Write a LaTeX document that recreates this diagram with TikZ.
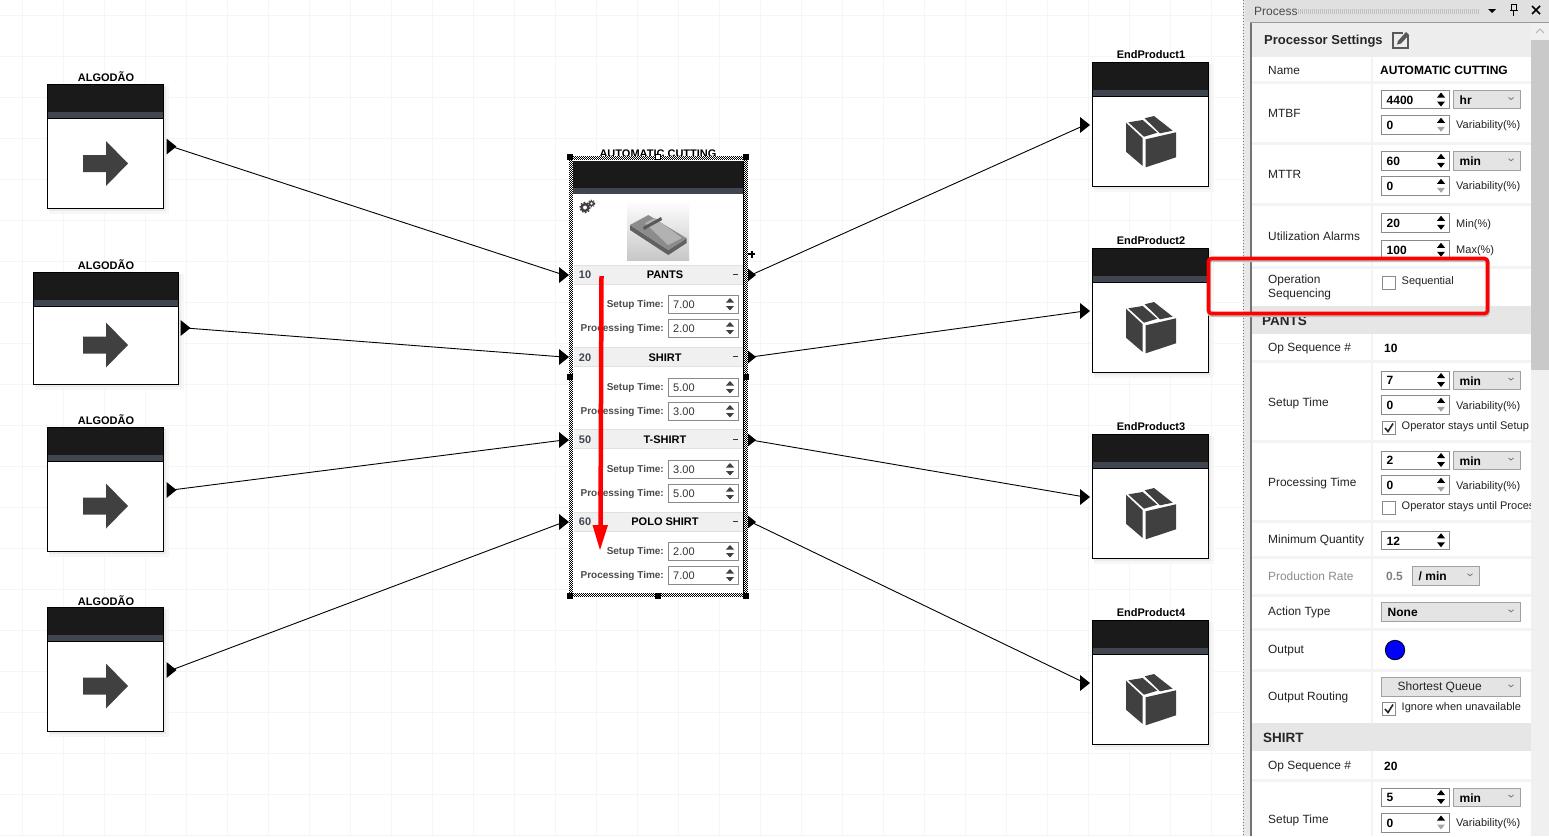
\documentclass[tikz,border=0pt]{standalone}
\usepackage{fontspec}
\setmainfont{Liberation Sans}
\definecolor{hdr}{HTML}{1A1A1A}
\definecolor{band}{HTML}{3F4650}
\definecolor{icon}{HTML}{404040}
\definecolor{rowg}{HTML}{F0F0F0}
\definecolor{sep}{HTML}{F3F3F3}
\definecolor{sect}{HTML}{E6E6E6}
\definecolor{ddl}{HTML}{E4E4E4}
\definecolor{wbord}{HTML}{8A8A8A}
\definecolor{redx}{HTML}{FF0000}
\definecolor{txtc}{HTML}{222222}
\newcommand{\fsz}[1]{\fontsize{#1}{14}\selectfont}
\newcount\tnum
\tikzset{
  x=1pt,y=-1pt,
  lab/.style={anchor=west,inner sep=0pt,text=txtc,font=\fsz{11.9}},
  val/.style={anchor=west,inner sep=0pt,text=black,font=\fsz{12}\bfseries},
  small/.style={anchor=west,inner sep=0pt,text=txtc,font=\fsz{11}},
  title/.style={anchor=center,inner sep=0pt,text=black,font=\fsz{11}\bfseries},
  plab/.style={anchor=east,inner sep=0pt,text=black!70,font=\fsz{10}\bfseries},
  pval/.style={anchor=west,inner sep=0pt,text=black!80,font=\fsz{11}},
  rowt/.style={anchor=center,inner sep=0pt,text=black,font=\fsz{11}\bfseries},
  wire/.style={draw=black,line width=0.9pt},
  boxo/.style={draw=black,line width=1pt,fill=white},
  wid/.style={draw=wbord,line width=1pt,fill=white},
  dropb/.style={draw=wbord!80,line width=1pt,fill=ddl},
}
\newcommand{\Txt}[4]{\global\advance\tnum by 1 \node[#1] (t\the\tnum) at ({#2},{#3+0.7}) {#4};}
\newcommand{\Shadow}[4]{%
  \fill[black!3] (#1+2,#2+2) rectangle (#3+6,#4+6);
  \fill[black!8] (#1+2,#2+2) rectangle (#3+3,#4+3);}
% tip-right triangle, coordinate at its centre
\newcommand{\Port}[3]{\coordinate (#1) at (#2,#3);
  \fill[black] (#2-5,#3-8) -- (#2+5,#3) -- (#2-5,#3+8) -- cycle;}
\newcommand{\BlockBox}[4]{% x1 ytop x2 ybot
  \Shadow{#1}{#2}{#3}{#4}
  \draw[boxo] (#1+0.5,#2+0.4) rectangle (#3+0.3,#4+0.3);
  \fill[hdr] (#1+0.5,#2+0.4) rectangle (#3+0.3,#2+28);
  \fill[band] (#1+1,#2+28) rectangle (#3-0.2,#2+34);
  \draw[line width=1pt] (#1+0.5,#2+0.4) rectangle (#3+0.3,#2+34.2) (#1+0.5,#2+0.4) rectangle (#3+0.3,#4+0.3);}
\newcommand{\ArrowIcon}[1]{% y centre
  \fill[icon] (83,#1-8.5) -- (106,#1-8.5) -- (106,#1-22.5) -- (128,#1) -- (106,#1+22.5) -- (106,#1+8.5) -- (83,#1+8.5) -- cycle;}
\newcommand{\BoxIcon}[1]{% box top
  \begin{scope}[shift={(1092,#1)}]
    \fill[icon] (34,60.7) -- (50.7,76.3) -- (50.7,104) -- (34,89.7) -- cycle;
    \fill[icon] (53.7,77.3) -- (84,70.3) -- (84,95.3) -- (53.7,105.3) -- cycle;
    \fill[icon] (36.3,60.3) -- (50.7,58) -- (65.3,70.7) -- (52,74.7) -- cycle;
    \fill[icon] (52.7,56.3) -- (62,54) -- (80.7,68.7) -- (68,71.3) -- cycle;
  \end{scope}}
\newcommand{\RowHead}[4]{% y1 y2 number name
  \fill[rowg] (573.5,#1) rectangle (743,#2);
  \draw[black!12,line width=0.8pt] (573.5,#1) -- (743,#1) (573.5,#2) -- (743,#2);
  \Txt{anchor=center,inner sep=0pt,text=band,font=\fsz{11}\bfseries}{585}{(#1+#2)/2}{#3}
  \Txt{rowt}{665}{(#1+#2)/2}{#4}
  \fill[black!80] (733,{(#1+#2)/2-0.5}) rectangle (738,{(#1+#2)/2+0.5});}
\newcommand{\PSpin}[3]{% y1 label value
  \Txt{plab}{664}{#1+9.5}{#2}
  \draw[wid] (668.5,#1) rectangle (738,#1+18);
  \Txt{pval}{673}{#1+9}{#3}
  \fill[black!75] (726,#1+7.5) -- (730,#1+3) -- (734,#1+7.5) -- cycle;
  \fill[black!75] (726,#1+11) -- (730,#1+15.5) -- (734,#1+11) -- cycle;}
\newcommand{\Spin}[6]{% x1 y1 x2 y2 text lowerarrowcolour
  \draw[wid] (#1,#2) rectangle (#3,#4);
  \Txt{val}{#1+5}{(#2+#4)/2}{#5}
  \fill[black] (#3-12,{(#2+#4)/2-2}) -- (#3-8,{(#2+#4)/2-7}) -- (#3-4,{(#2+#4)/2-2}) -- cycle;
  \fill[#6] (#3-12,{(#2+#4)/2+2}) -- (#3-8,{(#2+#4)/2+7}) -- (#3-4,{(#2+#4)/2+2}) -- cycle;}
\newcommand{\Drop}[7]{% x1 y1 x2 y2 text-offset style text
  \draw[dropb] (#1,#2) rectangle (#3,#4);
  \Txt{#6}{#1+#5}{(#2+#4)/2}{#7}
  \draw[black!55,line width=0.8pt] (#3-12,{(#2+#4)/2-2}) -- (#3-9.5,{(#2+#4)/2}) -- (#3-7,{(#2+#4)/2-2});}
\newcommand{\Check}[2]{% x y(top)
  \draw[wid,fill=white] (#1,#2) rectangle (#1+13,#2+13);}
\newcommand{\CheckM}[2]{\Check{#1}{#2}
  \draw[black!85,line width=1.6pt] (#1+2.5,#2+7) -- (#1+5.5,#2+10.5) -- (#1+10.5,#2+2.5);}
\newcommand{\Sep}[1]{\draw[sep,line width=3pt] (1252,#1) -- (1531,#1);}
% checkered selection bands, 4px wide
\tikzset{
  ckA/.style={black,line width=1pt,dash pattern=on 1pt off 1pt},
  ckB/.style={black,line width=1pt,dash pattern=on 1pt off 1pt,dash phase=1pt},
}
\newcommand{\HatchV}[3]{% x(left) y1 y2
  \fill[white] (#1,#2) rectangle (#1+4,#3);
  \draw[ckA] (#1+0.5,#2) -- (#1+0.5,#3);
  \draw[ckB] (#1+1.5,#2) -- (#1+1.5,#3);
  \draw[ckA] (#1+2.5,#2) -- (#1+2.5,#3);
  \draw[ckB] (#1+3.5,#2) -- (#1+3.5,#3);}
\newcommand{\HatchH}[3]{% y(top) x1 x2
  \fill[white] (#2,#1) rectangle (#3,#1+4);
  \draw[ckA] (#2,#1+0.5) -- (#3,#1+0.5);
  \draw[ckB] (#2,#1+1.5) -- (#3,#1+1.5);
  \draw[ckA] (#2,#1+2.5) -- (#3,#1+2.5);
  \draw[ckB] (#2,#1+3.5) -- (#3,#1+3.5);}
\newcommand{\Handle}[3]{\draw[black,fill=#3,line width=0.8pt] (#1-2.5,#2-2.5) rectangle (#1+2.5,#2+2.5);}
\begin{document}
\begin{tikzpicture}
\useasboundingbox (0,0) rectangle (1549,836);
\fill[white] (0,0) rectangle (1549,836);
% canvas grid
\foreach \gx in {22,63,...,1240} \draw[black!4,line width=0.8pt] (\gx,0) -- (\gx,836);
\foreach \gy in {15,56,...,836} \draw[black!4,line width=0.8pt] (0,\gy) -- (1243,\gy);
% sources
\Txt{title}{106}{75.5}{ALGODÃO}
\BlockBox{47}{84}{163}{208}\ArrowIcon{163.5}
\Txt{title}{106}{263.5}{ALGODÃO}
\BlockBox{33}{272}{178}{384}\ArrowIcon{345}
\Txt{title}{106}{418.5}{ALGODÃO}
\BlockBox{47}{427}{163}{551}\ArrowIcon{506}
\Txt{title}{106}{599.5}{ALGODÃO}
\BlockBox{47}{607}{163}{731}\ArrowIcon{686}
% end products
\Txt{title}{1151}{54}{EndProduct1}
\BlockBox{1092}{62}{1208}{186}\BoxIcon{62}
\Txt{title}{1151}{240}{EndProduct2}
\BlockBox{1092}{248}{1208}{372}\BoxIcon{248}
\Txt{title}{1151}{426}{EndProduct3}
\BlockBox{1092}{434}{1208}{558}\BoxIcon{434}
\Txt{title}{1151}{612}{EndProduct4}
\BlockBox{1092}{620}{1208}{744}\BoxIcon{620}
% ports
\Port{s1}{171.5}{146.5}
\Port{s2}{185.5}{328}
\Port{s3}{171.5}{490}
\Port{s4}{171.5}{670}
\Port{i1}{564}{275}
\Port{i2}{564}{357}
\Port{i3}{564}{440}
\Port{i4}{564}{522}
\Port{o1}{751}{275}
\Port{o2}{751}{357}
\Port{o3}{751}{440}
\Port{o4}{751}{522}
\Port{e1}{1085}{125}
\Port{e2}{1085}{311}
\Port{e3}{1085}{497}
\Port{e4}{1085}{683}
% connectors
\draw[wire] (s1) -- (i1);
\draw[wire] (s2) -- (i2);
\draw[wire] (s3) -- (i3);
\draw[wire] (s4) -- (i4);
\draw[wire] (o1) -- (e1);
\draw[wire] (o2) -- (e2);
\draw[wire] (o3) -- (e3);
\draw[wire] (o4) -- (e4);
% processor
\Txt{title}{658}{153}{AUTOMATIC CUTTING}
\fill[white] (572.5,160) rectangle (743.5,593);
\fill[hdr] (573,161) rectangle (743.5,187.5);
\fill[band] (573,187.5) rectangle (743.5,194);
\draw[black,line width=1pt] (572.8,160.5) -- (572.8,593) (743.6,160.5) -- (743.6,593);
% gears
\draw[icon,line width=2.4pt] (585,207.5) circle (3.4);
\draw[icon,line width=1.2pt,dash pattern=on 1.6pt off 1.6pt] (585,207.5) circle (5.2);
\draw[icon,line width=1.4pt] (591.5,203.5) circle (2);
\draw[icon,line width=1pt,dash pattern=on 1.2pt off 1.2pt] (591.5,203.5) circle (3.3);
% machine picture
\shade[top color=white,bottom color=black!22] (627,200) rectangle (689,260);
\fill[black!62] (630,225) -- (668.3,250) -- (686.7,238.3) -- (686.7,243) -- (668.3,255) -- (630,230) -- cycle;
\fill[black!45] (630,225) -- (648.3,215) -- (686.7,238.3) -- (668.3,250) -- cycle;
\fill[black!30] (645,223) -- (655,218) -- (682,238) -- (668,245) -- cycle;
\fill[black!65] (643,227) -- (661,217) -- (662,220) -- (644,230) -- cycle;
% rows
\RowHead{265}{284}{10}{PANTS}
\PSpin{295}{Setup Time:}{7.00}
\PSpin{319}{Processing Time:}{2.00}
\RowHead{347}{366.5}{20}{SHIRT}
\PSpin{378}{Setup Time:}{5.00}
\PSpin{402}{Processing Time:}{3.00}
\RowHead{429.5}{448.5}{50}{T-SHIRT}
\PSpin{460}{Setup Time:}{3.00}
\PSpin{484}{Processing Time:}{5.00}
\RowHead{512}{531}{60}{POLO SHIRT}
\PSpin{542}{Setup Time:}{2.00}
\PSpin{566}{Processing Time:}{7.00}
% selection border
\HatchV{569}{156}{597}
\HatchV{569}{156}{375}
\HatchV{569}{380}{597}
\HatchV{744}{156}{375}
\HatchV{744}{380}{597}
\HatchH{156}{569}{748}
\HatchH{593}{569}{748}
\Handle{570}{157}{black}\Handle{658}{157}{white}\Handle{746}{157}{black}
\Handle{570}{377}{black}\Handle{746}{377}{black}
\Handle{570}{596}{black}\Handle{658}{596}{black}\Handle{746}{596}{black}
\draw[black,line width=2pt] (748,254) -- (755,254) (751.5,250.5) -- (751.5,257.5);
% red flow arrow
\coordinate (ra) at (601.5,276);
\coordinate (rb) at (600.5,527);
\coordinate (rc) at (600,550);
\draw[redx,line width=4.5pt] (ra) -- (rb);
\fill[redx] (rc) -- (592.5,525) -- (608,525) -- cycle;
% panel chrome
\fill[black!9] (1243,0) rectangle (1549,836);
\draw[black!55,line width=1pt,dotted] (1243.5,0) -- (1243.5,836);
\fill[black!12] (1245,0) rectangle (1549,22);
\Txt{anchor=west,inner sep=0pt,text=black!70,font=\fsz{12}}{1254}{11}{Process}
\draw[black!25,line width=5pt,dash pattern=on 1pt off 1pt] (1298,11) -- (1480,11);
\fill[black] (1488,9) -- (1496,9) -- (1492,13) -- cycle;
\draw[black,line width=1pt] (1511,4.5) rectangle (1516,10.5) (1509.5,10.5) -- (1517.5,10.5);
\draw[black,line width=1.3pt] (1513.5,10.5) -- (1513.5,16);
\draw[black,line width=1.5pt] (1532,6) -- (1540,14) (1540,6) -- (1532,14);
\fill[black!55] (1250,22) rectangle (1252,836);
\draw[black!40,line width=1pt] (1250,22.5) -- (1549,22.5);
\fill[black!7] (1252,23) rectangle (1531,57);
\fill[white] (1252,57) rectangle (1531,836);
\draw[sep,line width=2.5pt] (1372,57) -- (1372,836);
\Sep{82}\Sep{143}\Sep{204}\Sep{267}\Sep{361}\Sep{441}\Sep{521}\Sep{557}\Sep{595}\Sep{629}\Sep{670}\Sep{780}
\fill[sect] (1252,306) rectangle (1531,334);
\fill[sect] (1252,723) rectangle (1531,751);
% panel header
\Txt{anchor=west,inner sep=0pt,text=black!85,font=\fsz{13}\bfseries}{1264}{40}{Processor Settings}
\draw[black!65,line width=2pt] (1408,35) -- (1408,47.5) -- (1393,47.5) -- (1393,33) -- (1403,33);
\fill[black!65] (1398,41) -- (1406,32) -- (1409,35) -- (1401,43.5) -- (1397,44.5) -- cycle;
% settings rows
\Txt{lab}{1268}{70}{Name}
\Txt{val}{1380}{70}{AUTOMATIC CUTTING}
\Txt{lab}{1268}{113}{MTBF}
\Spin{1381.5}{90.5}{1449}{108.5}{4400}{black}
\Drop{1453.5}{90.5}{1520.5}{108.5}{6}{val}{hr}
\Spin{1381.5}{115.5}{1449}{134}{0}{black!35}
\Txt{small}{1456}{124.5}{Variability(\%)}
\Txt{lab}{1268}{174}{MTTR}
\Spin{1381.5}{151.5}{1449}{170}{60}{black}
\Drop{1453.5}{151.5}{1520.5}{170}{6}{val}{min}
\Spin{1381.5}{176.5}{1449}{195}{0}{black!35}
\Txt{small}{1456}{185.5}{Variability(\%)}
\Txt{lab}{1268}{236}{Utilization Alarms}
\Spin{1381.5}{213.5}{1449}{232}{20}{black}
\Txt{small}{1456}{223.5}{Min(\%)}
\Spin{1381.5}{240.5}{1449}{259}{100}{black}
\Txt{small}{1456}{250}{Max(\%)}
\Txt{lab,align=left}{1268}{287}{Operation\\Sequencing}
\Check{1382.5}{276}
\Txt{small}{1401.5}{280.5}{Sequential}
\Txt{anchor=west,inner sep=0pt,text=black!85,font=\fsz{13.5}\bfseries}{1262}{320.5}{PANTS}
\Txt{lab}{1268}{348}{Op Sequence \#}
\Txt{val}{1384}{348}{10}
\Txt{lab}{1268}{403}{Setup Time}
\Spin{1381.5}{371}{1449}{389}{7}{black}
\Drop{1453.5}{371}{1520.5}{389}{6}{val}{min}
\Spin{1381.5}{395.5}{1449}{414}{0}{black!35}
\Txt{small}{1456}{405.5}{Variability(\%)}
\CheckM{1382.5}{421}
\Txt{small}{1401.5}{425.5}{Operator stays until Setup}
\Txt{lab}{1268}{483}{Processing Time}
\Spin{1381.5}{451}{1449}{469}{2}{black}
\Drop{1453.5}{451}{1520.5}{469}{6}{val}{min}
\Spin{1381.5}{475.5}{1449}{494}{0}{black!35}
\Txt{small}{1456}{485.5}{Variability(\%)}
\Check{1382.5}{501}
\Txt{small}{1401.5}{505.5}{Operator stays until Proces}
\Txt{lab}{1268}{540}{Minimum Quantity}
\Spin{1381.5}{531}{1449}{549.5}{12}{black}
\Txt{lab,text=black!45}{1268}{576}{Production Rate}
\Txt{val,text=black!50}{1386}{576}{0.5}
\Drop{1412.5}{566.5}{1479.5}{585}{6}{val}{/ min}
\Txt{lab}{1268}{612}{Action Type}
\Drop{1381.5}{602.5}{1520.5}{621}{6}{val}{None}
\Txt{lab}{1268}{650}{Output}
\node[circle,draw=black,fill=blue,line width=0.8pt,minimum size=19.5pt,inner sep=0pt] (outdot) at (1395,650) {};
\Txt{lab}{1268}{697}{Output Routing}
\Drop{1381.5}{677.5}{1520.5}{696}{16}{lab,text=black!85,font=\fsz{12}}{Shortest Queue}
\CheckM{1382.5}{702}
\Txt{small}{1401.5}{706.5}{Ignore when unavailable}
\Txt{anchor=west,inner sep=0pt,text=black!85,font=\fsz{13.5}\bfseries}{1263}{737.5}{SHIRT}
\Txt{lab}{1268}{766}{Op Sequence \#}
\Txt{val}{1384}{766}{20}
\Txt{lab}{1268}{820}{Setup Time}
\Spin{1381.5}{788}{1449}{806}{5}{black}
\Drop{1453.5}{788}{1520.5}{806}{6}{val}{min}
\Spin{1381.5}{813}{1449}{832}{0}{black!35}
\Txt{small}{1456}{822.5}{Variability(\%)}
% scrollbar (over the clipped text)
\fill[black!6] (1531,23) rectangle (1549,836);
\fill[black!21] (1531,40) rectangle (1549,370);
\draw[black!30,line width=1pt] (1536,33) -- (1540,29) -- (1544,33);
% red highlight
\draw[black!25,line width=4pt,rounded corners=3pt] (1209,260) rectangle (1488,315);
\draw[redx,line width=3.6pt,rounded corners=3pt] (1208.5,258.5) rectangle (1487.5,313.5);
\end{tikzpicture}
\end{document}
